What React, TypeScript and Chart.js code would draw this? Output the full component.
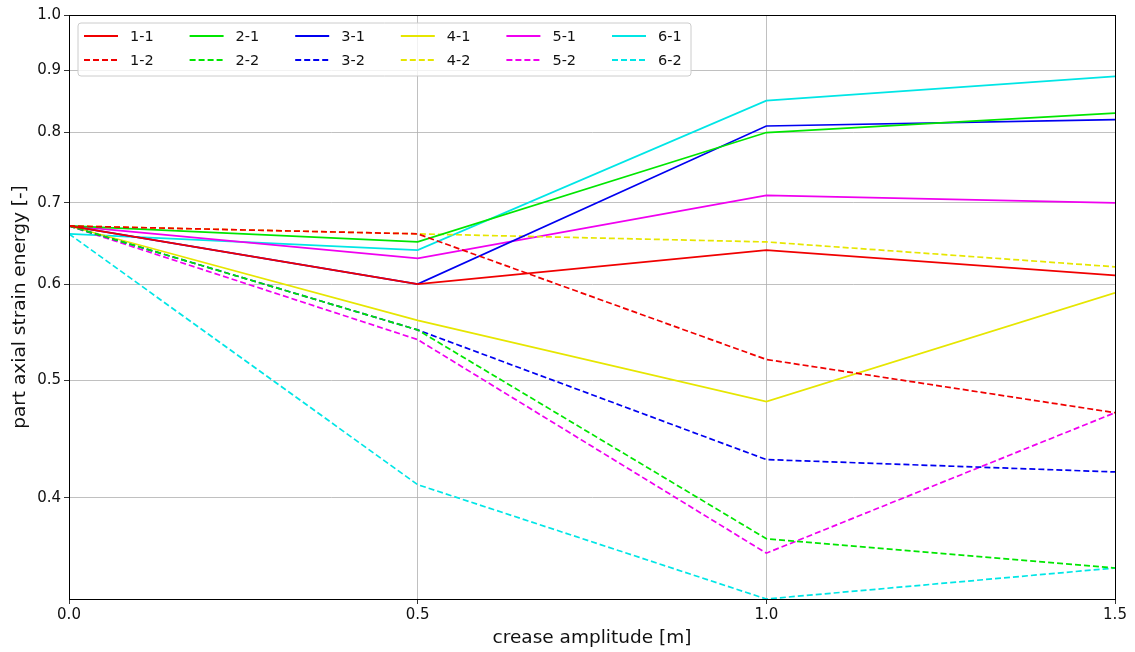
import React, { useEffect, useRef } from "react";
import { Chart, registerables } from "chart.js";

Chart.register(...registerables);

const xValues = [0, 0.5, 1.0, 1.5];
const s11 = [0.67, 0.60, 0.64, 0.61];
const s12 = [0.67, 0.66, 0.52, 0.47];
const s21 = [0.67, 0.65, 0.80, 0.83];
const s22 = [0.67, 0.55, 0.37, 0.35];
const s31 = [0.67, 0.60, 0.81, 0.82];
const s32 = [0.67, 0.55, 0.43, 0.42];
const s41 = [0.67, 0.56, 0.48, 0.59];
const s42 = [0.67, 0.66, 0.65, 0.62];
const s51 = [0.67, 0.63, 0.71, 0.70];
const s52 = [0.67, 0.54, 0.36, 0.47];
const s61 = [0.66, 0.64, 0.85, 0.89];
const s62 = [0.66, 0.41, 0.33, 0.35];

const yTicks = [0.4, 0.5, 0.6, 0.7, 0.8, 0.9, 1.0];
const xTicks = [0, 0.5, 1.0, 1.5];

const seriesNames = ["1-1", "1-2", "2-1", "2-2", "3-1", "3-2", "4-1", "4-2", "5-1", "5-2", "6-1", "6-2"];
const seriesValues = [s11, s12, s21, s22, s31, s32, s41, s42, s51, s52, s61, s62];
const groupColors = ["#f00000", "#00e600", "#0000f0", "#e6e600", "#f000f0", "#00e6e6"];

const FONT = "'DejaVu Sans', sans-serif";
const DASH = [6, 3];

const framePlugin = {
  id: "frame",
  afterDatasetsDraw(chart: any) {
    const { ctx, chartArea } = chart;
    const { left, right, top, bottom } = chartArea;
    ctx.save();
    ctx.strokeStyle = "#000";
    ctx.lineWidth = 1;
    ctx.strokeRect(left + 0.5, top + 0.5, right - left, bottom - top);

    // legend
    const bx = 78, by = 23, bw = 613, bh = 53, r = 3;
    ctx.fillStyle = "rgba(255,255,255,0.8)";
    ctx.strokeStyle = "#cccccc";
    ctx.beginPath();
    ctx.moveTo(bx + r, by);
    ctx.lineTo(bx + bw - r, by);
    ctx.quadraticCurveTo(bx + bw, by, bx + bw, by + r);
    ctx.lineTo(bx + bw, by + bh - r);
    ctx.quadraticCurveTo(bx + bw, by + bh, bx + bw - r, by + bh);
    ctx.lineTo(bx + r, by + bh);
    ctx.quadraticCurveTo(bx, by + bh, bx, by + bh - r);
    ctx.lineTo(bx, by + r);
    ctx.quadraticCurveTo(bx, by, bx + r, by);
    ctx.closePath();
    ctx.fill();
    ctx.stroke();

    ctx.font = `14.5px ${FONT}`;
    ctx.textBaseline = "middle";
    ctx.textAlign = "left";
    chart.data.datasets.forEach((ds: any, i: number) => {
      const col = Math.floor(i / 2);
      const row = i % 2;
      const x0 = 84 + col * 105.6;
      const y0 = 36 + row * 24;
      ctx.strokeStyle = ds.borderColor;
      ctx.lineWidth = 1.8;
      ctx.setLineDash(ds.borderDash || []);
      ctx.beginPath();
      ctx.moveTo(x0, y0);
      ctx.lineTo(x0 + 34, y0);
      ctx.stroke();
      ctx.setLineDash([]);
      ctx.fillStyle = "#111";
      ctx.fillText(ds.label, x0 + 46, y0 + 1);
    });
    ctx.restore();
  },
};

export default function App() {
  const ref = useRef<HTMLCanvasElement | null>(null);
  useEffect(() => {
    document.body.style.margin = "0";
    const canvas = ref.current!;
    const datasets = seriesNames.map((name, i) => ({
      label: name,
      data: xValues.map((x, j) => ({ x, y: seriesValues[i][j] })),
      borderColor: groupColors[Math.floor(i / 2)],
      backgroundColor: groupColors[Math.floor(i / 2)],
      borderWidth: 1.7,
      borderDash: i % 2 === 1 ? DASH : [],
      pointRadius: 0,
      fill: false,
      tension: 0,
    }));
    const chart = new Chart(canvas, {
      type: "line",
      data: { datasets },
      plugins: [framePlugin],
      options: {
        animation: false,
        responsive: false,
        devicePixelRatio: 1,
        layout: { padding: { top: 15, right: 20, left: 0, bottom: 0 } },
        plugins: { legend: { display: false }, tooltip: { enabled: false } },
        scales: {
          x: {
            type: "linear",
            min: 0,
            max: 1.5,
            afterBuildTicks: (scale: any) => {
              scale.ticks = xTicks.map((v) => ({ value: v }));
            },
            afterFit: (scale: any) => {
              scale.height = 53;
            },
            ticks: {
              callback: (v: any) => Number(v).toFixed(1),
              font: { family: FONT, size: 15 },
              color: "#111",
              padding: 2,
              maxRotation: 0,
            },
            grid: { color: "#b0b0b0", lineWidth: 0.8, tickLength: 5, tickColor: "#000" },
            border: { color: "#000", width: 1 },
            title: {
              display: true,
              text: "crease amplitude [m]",
              font: { family: FONT, size: 18.5 },
              color: "#111",
              padding: { top: 0, bottom: 3 },
            },
          },
          y: {
            type: "logarithmic",
            min: 0.33,
            max: 1.0,
            afterBuildTicks: (scale: any) => {
              scale.ticks = yTicks.map((v) => ({ value: v }));
            },
            afterFit: (scale: any) => {
              scale.width = 69;
            },
            ticks: {
              callback: (v: any) => Number(v).toFixed(1),
              font: { family: FONT, size: 15 },
              color: "#111",
              padding: 3,
            },
            grid: { color: "#b0b0b0", lineWidth: 0.8, tickLength: 5, tickColor: "#000" },
            border: { color: "#000", width: 1 },
            title: {
              display: true,
              text: "part axial strain energy [-]",
              font: { family: FONT, size: 18.5 },
              color: "#111",
              padding: { top: 9, bottom: 0 },
            },
          },
        },
      },
    });
    return () => chart.destroy();
  }, []);
  return (
    <div style={{ position: "absolute", left: 0, top: 0, width: 1135, height: 652 }}>
      <canvas ref={ref} width={1135} height={652} style={{ width: 1135, height: 652 }} />
    </div>
  );
}
